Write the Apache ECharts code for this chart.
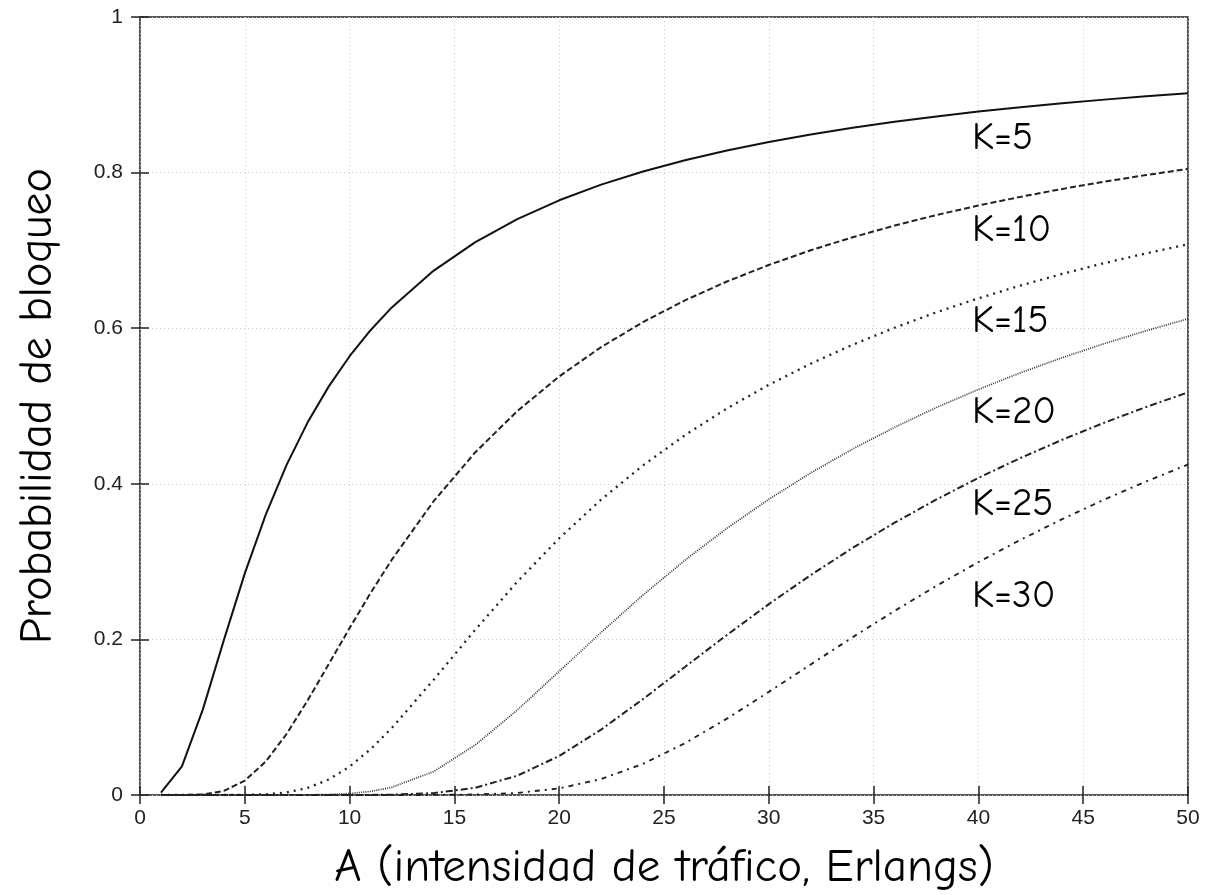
<!DOCTYPE html>
<html>
<head>
<meta charset="utf-8">
<script src="https://cdn.jsdelivr.net/npm/echarts@6/dist/echarts.min.js"></script>
<style>
html,body{margin:0;padding:0;background:#fff;}
#chart{width:1207px;height:895px;}
</style>
</head>
<body>
<div id="chart"></div>
<script>
// Traffic intensity A (Erlangs)
var A = [1,2,3,4,5,6,7,8,9,10,11,12,14,16,18,20,22,24,26,28,30,32,34,36,38,40,42,44,46,48,50];
// Blocking probability for each K
var K5  = [0.0031,0.0367,0.1101,0.1991,0.2849,0.3604,0.4247,0.4790,0.5249,0.5640,0.5974,0.6264,0.6737,0.7106,0.7402,0.7644,0.7845,0.8014,0.8159,0.8285,0.8394,0.8491,0.8576,0.8653,0.8722,0.8784,0.8840,0.8891,0.8938,0.8981,0.9021];
var K10 = [0,0,0.0008,0.0053,0.0184,0.0431,0.0787,0.1217,0.1680,0.2146,0.2596,0.3019,0.3773,0.4406,0.4935,0.5380,0.5757,0.6079,0.6358,0.6600,0.6813,0.7002,0.7169,0.7319,0.7455,0.7577,0.7688,0.7790,0.7883,0.7968,0.8047];
var K15 = [0,0,0,0,0.0002,0.0009,0.0033,0.0091,0.0199,0.0365,0.0588,0.0857,0.1478,0.2126,0.2741,0.3300,0.3797,0.4237,0.4625,0.4968,0.5272,0.5544,0.5787,0.6006,0.6205,0.6384,0.6548,0.6698,0.6836,0.6962,0.7080];
var K20 = [0,0,0,0,0,0,0,0.0002,0.0006,0.0019,0.0046,0.0098,0.0300,0.0644,0.1092,0.1589,0.2090,0.2571,0.3018,0.3428,0.3801,0.4140,0.4447,0.4726,0.4981,0.5213,0.5426,0.5621,0.5801,0.5967,0.6121];
var K25 = [0,0,0,0,0,0,0,0,0,0,0.0001,0.0004,0.0024,0.0093,0.0248,0.0502,0.0841,0.1233,0.1646,0.2057,0.2453,0.2827,0.3176,0.3500,0.3799,0.4076,0.4331,0.4566,0.4785,0.4987,0.5175];
var K30 = [0,0,0,0,0,0,0,0,0,0,0,0,0.0001,0.0006,0.0026,0.0085,0.0205,0.0401,0.0666,0.0981,0.1325,0.1678,0.2028,0.2366,0.2689,0.2993,0.3279,0.3546,0.3797,0.4030,0.4248];
var seriesNames = ['K=5','K=10','K=15','K=20','K=25','K=30'];
var seriesData = [K5,K10,K15,K20,K25,K30];
// annotation anchors (data space)
var labelA = 39.7;
var labelP = [0.844,0.726,0.609,0.492,0.374,0.256];

var styles = [
  {type:'solid', width:2, color:'#111'},
  {type:[6,3], width:2, color:'#222'},
  {type:[2,5], width:2.3, color:'#222'},
  {type:[1,1.2], width:1.7, color:'#333'},
  {type:[7,3,2,3], width:2, color:'#222'},
  {type:[5,5,2,5], width:1.9, color:'#222'}
];

var titleFont = "'Comic Sans MS','Comic Neue','Noto Sans','DejaVu Sans',sans-serif";
var tickFont = "'Liberation Sans','Helvetica','Arial',sans-serif";

var series = seriesData.map(function(vals, i){
  return {
    name: seriesNames[i],
    type: 'line',
    showSymbol: false,
    symbol: 'none',
    smooth: false,
    data: vals.map(function(v, j){ return [A[j], v]; }),
    lineStyle: styles[i],
    z: 3,
    markPoint: {
      symbol: 'circle',
      symbolSize: 0,
      silent: true,
      data: [{
        coord: [labelA, labelP[i]],
        label: {
          show: true,
          formatter: seriesNames[i],
          position: 'inside',
          align: 'left',
          verticalAlign: 'middle',
          fontFamily: titleFont,
          fontSize: 39,
          color: '#000'
        }
      }]
    }
  };
});

var tickLabelStyle = {fontFamily: tickFont, fontSize: 21, color: '#222'};
var splitStyle = {show:true, lineStyle:{color:'#c8c8c8', type:[1,3], width:1}};

var chart = echarts.init(document.getElementById('chart'), null, {renderer:'canvas'});
chart.setOption({
  animation: false,
  backgroundColor: '#fff',
  grid: {left:140, right:19, top:17, bottom:100, containLabel:false, outerBoundsMode:'none',
         show:true, borderColor:'#222', borderWidth:1.5, backgroundColor:'transparent'},
  xAxis: [{
    type:'value', min:0, max:50, interval:5,
    name:'A (intensidad de tráfico, Erlangs)',
    nameLocation:'middle', nameGap:49,
    nameTextStyle:{fontFamily:titleFont, fontSize:47, color:'#000'},
    axisLine:{show:false},
    axisTick:{show:true, inside:true, length:9, lineStyle:{color:'#222', width:1.5}},
    axisLabel:Object.assign({margin:13}, tickLabelStyle),
    splitLine: splitStyle
  },{
    type:'value', min:0, max:50, interval:5, position:'top',
    axisLine:{show:false}, axisLabel:{show:false}, splitLine:{show:false},
    axisTick:{show:true, inside:true, length:9, lineStyle:{color:'#222', width:1.5}}
  }],
  yAxis: [{
    type:'value', min:0, max:1, interval:0.2,
    name:'Probabilidad de bloqueo',
    nameLocation:'middle', nameGap:79,
    nameTextStyle:{fontFamily:titleFont, fontSize:46, color:'#000'},
    axisLine:{show:false},
    axisTick:{show:true, inside:true, length:9, lineStyle:{color:'#222', width:1.5}},
    axisLabel:Object.assign({margin:17, formatter:function(v){return String(Math.round(v*10)/10);}}, tickLabelStyle),
    splitLine: splitStyle
  },{
    type:'value', min:0, max:1, interval:0.2, position:'right',
    axisLine:{show:false}, axisLabel:{show:false}, splitLine:{show:false},
    axisTick:{show:true, inside:true, length:9, lineStyle:{color:'#222', width:1.5}}
  }],
  series: series
});
</script>
</body>
</html>
